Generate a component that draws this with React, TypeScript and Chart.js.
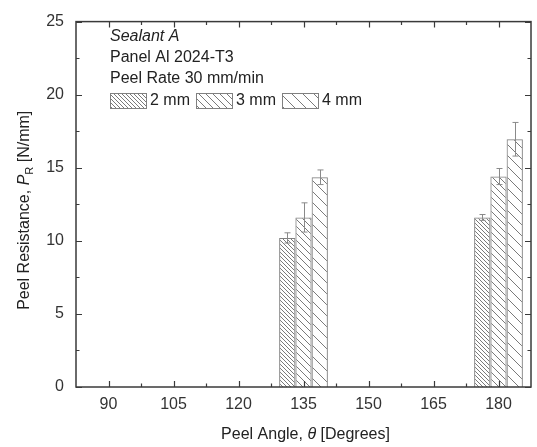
import React, { useEffect, useRef } from "react";
import { Chart, registerables } from "chart.js";

Chart.register(...registerables);

// ---- data ----
const GROUP_ANGLES = [135, 180];
const SERIES_LABELS = ["2 mm", "3 mm", "4 mm"];
const VALUES_2MM = [10.2, 11.6];
const VALUES_3MM = [11.6, 14.4];
const VALUES_4MM = [14.35, 16.95];
const ERR_2MM = [0.35, 0.2];
const ERR_3MM = [1.0, 0.55];
const ERR_4MM = [0.5, 1.15];
const X_TICKS = [90, 105, 120, 135, 150, 165, 180];
const X_MINOR = [97.5, 112.5, 127.5, 142.5, 157.5, 172.5];
const Y_TICKS = [0, 5, 10, 15, 20, 25];
const Y_MINOR = [2.5, 7.5, 12.5, 17.5, 22.5];
const ANNOTATION_LINES = ["Sealant A", "Panel Al 2024-T3", "Peel Rate 30 mm/min"];

const FONT = '"Liberation Sans", Arial, Helvetica, sans-serif';
const TEXT_COLOR = "#222";
const AXIS_COLOR = "#3a3a3a";
const HATCH_COLOR = "#7a7a7a";
const HATCH_SPACING = [4, 7, 11];

function makeHatch(ctx: CanvasRenderingContext2D, s: number): CanvasPattern | string {
  const c = document.createElement("canvas");
  c.width = s;
  c.height = s;
  const g = c.getContext("2d");
  if (!g) return HATCH_COLOR;
  g.strokeStyle = HATCH_COLOR;
  g.lineWidth = 1;
  for (const k of [-1, 0, 1]) {
    g.beginPath();
    g.moveTo(k * s, 0);
    g.lineTo(k * s + s, s);
    g.stroke();
  }
  return ctx.createPattern(c, "repeat") || HATCH_COLOR;
}

export default function App() {
  const ref = useRef<HTMLCanvasElement | null>(null);

  useEffect(() => {
    const canvas = ref.current;
    if (!canvas) return;
    const ctx = canvas.getContext("2d");
    if (!ctx) return;

    const seriesValues = [VALUES_2MM, VALUES_3MM, VALUES_4MM];
    const seriesErr = [ERR_2MM, ERR_3MM, ERR_4MM];
    const patterns = HATCH_SPACING.map((s) => makeHatch(ctx, s));

    const datasets = SERIES_LABELS.map((label, i) => ({
      label,
      data: GROUP_ANGLES.map((a, j) => ({ x: a, y: seriesValues[i][j] })),
      backgroundColor: patterns[i] as any,
      borderColor: "#808080",
      borderWidth: 1,
      categoryPercentage: 0.75,
      barPercentage: 1,
    }));

    const errorBars = {
      id: "errorBars",
      afterDatasetsDraw(chart: any) {
        const c = chart.ctx;
        const ys = chart.scales.y;
        c.save();
        c.strokeStyle = "#8a8a8a";
        c.lineWidth = 1;
        chart.data.datasets.forEach((_d: any, i: number) => {
          const meta = chart.getDatasetMeta(i);
          meta.data.forEach((bar: any, j: number) => {
            const v = seriesValues[i][j];
            const e = seriesErr[i][j];
            const x = Math.round(bar.x) + 0.5;
            const yt = ys.getPixelForValue(v + e);
            const yb = ys.getPixelForValue(v - e);
            c.beginPath();
            c.moveTo(x, yt);
            c.lineTo(x, yb);
            c.moveTo(x - 3, yt);
            c.lineTo(x + 3, yt);
            c.moveTo(x - 3, yb);
            c.lineTo(x + 3, yb);
            c.stroke();
          });
        });
        c.restore();
      },
    };

    const frame = {
      id: "frame",
      afterDraw(chart: any) {
        const c = chart.ctx;
        const { left, right, top, bottom } = chart.chartArea;
        const xs = chart.scales.x;
        const ys = chart.scales.y;
        c.save();
        c.strokeStyle = AXIS_COLOR;
        c.lineWidth = 1.5;
        c.strokeRect(left, top, right - left, bottom - top);
        c.lineWidth = 1.2;
        c.beginPath();
        const xt = (vals: number[], len: number) => {
          vals.forEach((v) => {
            const x = Math.round(xs.getPixelForValue(v)) + 0.5;
            c.moveTo(x, bottom);
            c.lineTo(x, bottom - len);
            c.moveTo(x, top);
            c.lineTo(x, top + len);
          });
        };
        const yt = (vals: number[], len: number) => {
          vals.forEach((v) => {
            const y = Math.round(ys.getPixelForValue(v)) + 0.5;
            c.moveTo(left, y);
            c.lineTo(left + len, y);
            c.moveTo(right, y);
            c.lineTo(right - len, y);
          });
        };
        xt(X_TICKS, 6);
        xt(X_MINOR, 3.5);
        yt(Y_TICKS, 6);
        yt(Y_MINOR, 3.5);
        c.stroke();

        // annotation text
        c.fillStyle = TEXT_COLOR;
        c.textBaseline = "middle";
        c.textAlign = "left";
        const tx = left + 34;
        const lineYs = [37, 58, 79];
        ANNOTATION_LINES.forEach((t, i) => {
          c.font = (i === 0 ? "italic " : "") + "16px " + FONT;
          c.fillText(t, tx, lineYs[i]);
        });

        // legend row
        c.font = "16px " + FONT;
        let lx = tx;
        const ly = 93;
        SERIES_LABELS.forEach((lab, i) => {
          c.fillStyle = patterns[i] as any;
          c.fillRect(lx, ly, 36, 15);
          c.strokeStyle = "#808080";
          c.lineWidth = 1;
          c.strokeRect(lx + 0.5, ly + 0.5, 36, 15);
          c.fillStyle = TEXT_COLOR;
          c.fillText(lab, lx + 40, ly + 8);
          lx += 40 + c.measureText(lab).width + 6;
        });

        // x title
        c.textBaseline = "middle";
        const xParts: [string, string][] = [
          ["Peel Angle, ", "16px " + FONT],
          ["\u03b8", "italic 16px " + FONT],
          [" [Degrees]", "16px " + FONT],
        ];
        let total = 0;
        xParts.forEach(([t, f]) => {
          c.font = f;
          total += c.measureText(t).width;
        });
        let px = (left + right) / 2 + 2 - total / 2;
        xParts.forEach(([t, f]) => {
          c.font = f;
          c.fillText(t, px, 435);
          px += c.measureText(t).width;
        });

        // y title
        c.translate(25, (top + bottom) / 2 + 6);
        c.rotate(-Math.PI / 2);
        const yParts: [string, string, number][] = [
          ["Peel Resistance, ", "16px " + FONT, 0],
          ["P", "italic 16px " + FONT, 0],
          ["R", "11px " + FONT, 5],
          [" [N/mm]", "16px " + FONT, 0],
        ];
        total = 0;
        yParts.forEach(([t, f]) => {
          c.font = f;
          total += c.measureText(t).width;
        });
        let py = -total / 2;
        yParts.forEach(([t, f, dy]) => {
          c.font = f;
          c.fillText(t, py, dy);
          py += c.measureText(t).width;
        });
        c.restore();
      },
    };

    const chart = new Chart(ctx, {
      type: "bar",
      data: { datasets: datasets as any },
      options: {
        animation: false,
        responsive: false,
        maintainAspectRatio: false,
        layout: { padding: { top: 15, right: 6, left: 0, bottom: 0 } },
        plugins: {
          legend: { display: false },
          tooltip: { enabled: false },
          title: { display: false },
        },
        scales: {
          x: {
            type: "linear",
            min: 82.5,
            max: 187.5,
            offset: false,
            grid: { display: false, drawTicks: false, offset: false },
            border: { display: false },
            afterBuildTicks: (s: any) => {
              s.ticks = X_TICKS.map((v) => ({ value: v }));
            },
            afterFit: (s: any) => {
              s.height = 60;
            },
            ticks: {
              padding: 8,
              color: "#333",
              font: { family: FONT, size: 16 },
              maxRotation: 0,
              autoSkip: false,
            },
          },
          y: {
            type: "linear",
            min: 0,
            max: 25,
            grid: { display: false, drawTicks: false },
            border: { display: false },
            afterBuildTicks: (s: any) => {
              s.ticks = Y_TICKS.map((v) => ({ value: v }));
            },
            afterFit: (s: any) => {
              s.width = 76;
            },
            ticks: {
              padding: 12,
              color: "#333",
              font: { family: FONT, size: 16 },
            },
          },
        },
      },
      plugins: [errorBars, frame],
    } as any);

    return () => chart.destroy();
  }, []);

  return (
    <div style={{ position: "fixed", left: 0, top: 0, width: 537, height: 447, background: "#fff" }}>
      <canvas ref={ref} width={537} height={447} style={{ display: "block" }} />
    </div>
  );
}
